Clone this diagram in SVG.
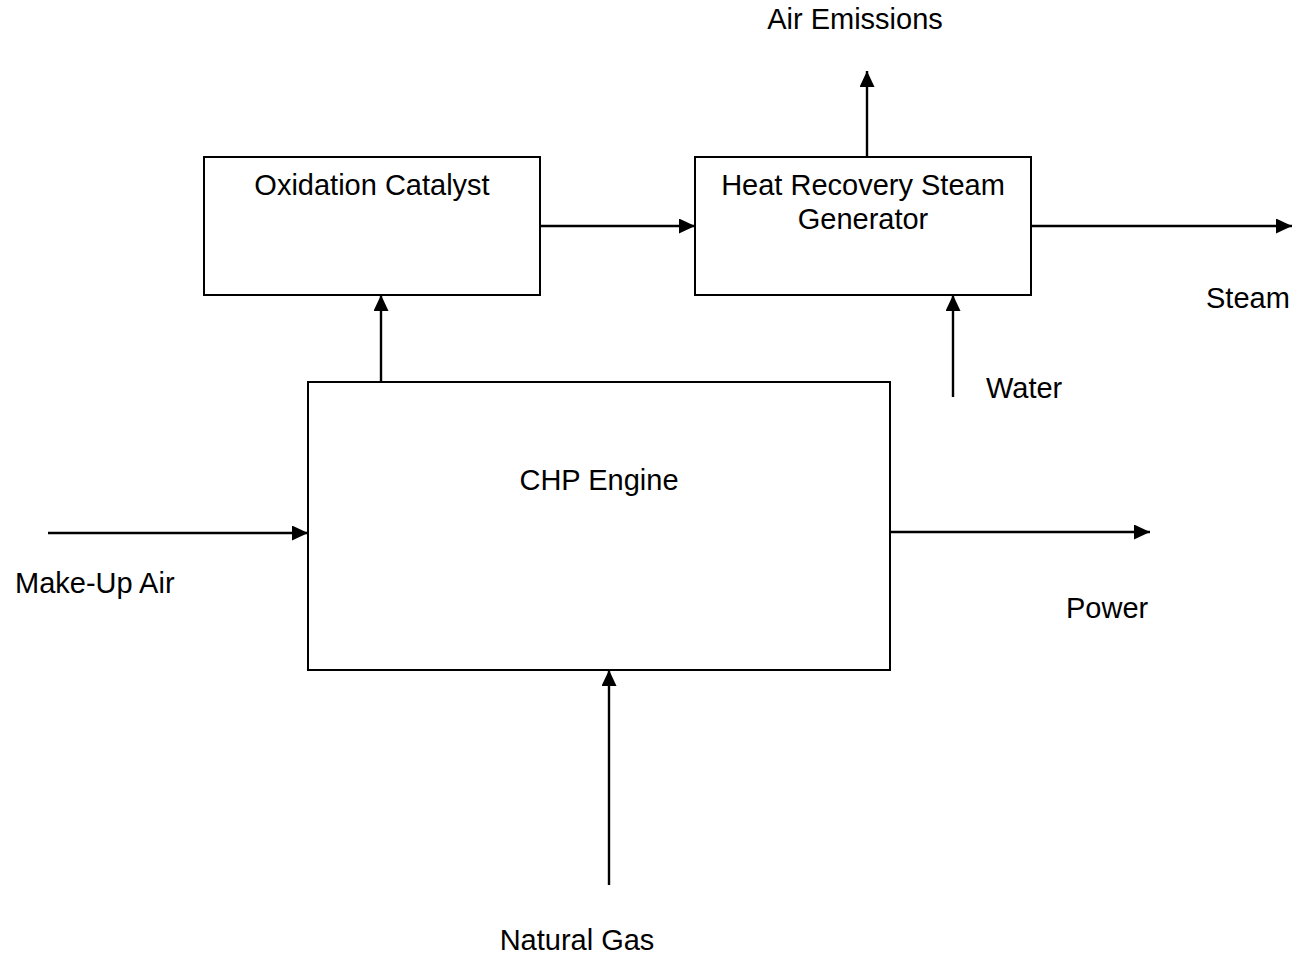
<svg xmlns="http://www.w3.org/2000/svg" width="1294" height="956" viewBox="0 0 1294 956">
<style>
.box{fill:#fff;stroke:#000;stroke-width:2}
.ln{fill:none;stroke:#000;stroke-width:2.4;marker-end:url(#ah)}
text{font-family:"Liberation Sans",Arial,sans-serif;font-size:29px;fill:#000}
.c{text-anchor:middle}
</style>
<defs>
<marker id="ah" viewBox="0 0 10 10" refX="10" refY="5" markerWidth="16" markerHeight="15" markerUnits="userSpaceOnUse" orient="auto" preserveAspectRatio="none">
<path d="M0,0 L10,5 L0,10 z" fill="#000"/>
</marker>
</defs>
<rect width="1294" height="956" fill="#fff"/>
<g id="connectors">
<line class="ln" x1="381" y1="382" x2="381" y2="295"/>
<line class="ln" x1="540" y1="226" x2="695" y2="226"/>
<line class="ln" x1="867" y1="157" x2="867" y2="71"/>
<line class="ln" x1="1031" y1="226" x2="1292" y2="226"/>
<line class="ln" x1="953" y1="397" x2="953" y2="295"/>
<line class="ln" x1="48" y1="533" x2="308" y2="533"/>
<line class="ln" x1="890" y1="532" x2="1150" y2="532"/>
<line class="ln" x1="609" y1="885" x2="609" y2="670"/>
</g>
<g id="oxidation-catalyst">
<rect class="box" x="204" y="157" width="336" height="138"/>
<text class="c" x="372" y="195">Oxidation Catalyst</text>
</g>
<g id="hrsg">
<rect class="box" x="695" y="157" width="336" height="138"/>
<text class="c" x="863" y="195">Heat Recovery Steam</text>
<text class="c" x="863" y="229">Generator</text>
</g>
<g id="chp-engine">
<rect class="box" x="308" y="382" width="582" height="288"/>
<text class="c" x="599" y="490">CHP Engine</text>
</g>
<g id="labels">
<text class="c" x="855" y="29">Air Emissions</text>
<text x="1206" y="308">Steam</text>
<text x="986" y="398">Water</text>
<text x="15" y="593">Make-Up Air</text>
<text x="1066" y="618">Power</text>
<text class="c" x="577" y="950">Natural Gas</text>
</g>
</svg>
